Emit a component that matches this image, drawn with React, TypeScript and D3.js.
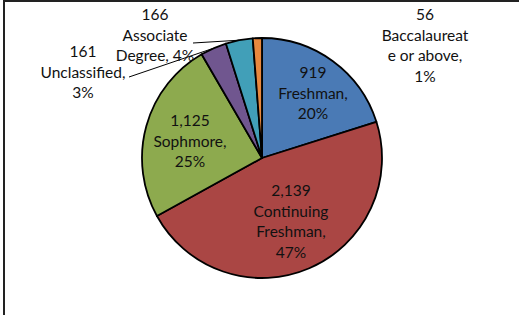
import React from 'react';
import * as d3 from 'd3';

// Student classification counts, clockwise from 12 o'clock
const categories = ['Freshman', 'Continuing Freshman', 'Sophmore', 'Unclassified', 'Associate Degree', 'Baccalaureate or above'];
const counts = [919, 2139, 1125, 161, 166, 56];
const colors = ['#4A7AB5', '#AA4644', '#8DAA4E', '#70568F', '#419FB8', '#E8883E'];

// label text lines as shown in the chart
const labelLines = [
  ['919', 'Freshman,', '20%'],
  ['2,139', 'Continuing', 'Freshman,', '47%'],
  ['1,125', 'Sophmore,', '25%'],
  ['161', 'Unclassified,', '3%'],
  ['166', 'Associate', 'Degree, 4%'],
  ['56', 'Baccalaureat', 'e or above,', '1%'],
];

const W = 519;
const H = 315;
const cx = 262;
const cy = 158;
const R = 120;
const lineH = 20.7;

// label anchor (center x, first baseline) and whether a leader line is drawn
const labelPos = [
  { x: 313, y: 78, leader: null },
  { x: 291, y: 196, leader: null },
  { x: 190, y: 126, leader: null },
  { x: 83, y: 57, leader: { x: 129, y: 77 } },
  { x: 155, y: 20, leader: { x: 193, y: 43 } },
  { x: 425, y: 20, leader: null },
];

const App = () => {
  const pie = d3.pie<number>().sort(null).value(d => d);
  const arcs = pie(counts);
  const arc = d3.arc<d3.PieArcDatum<number>>().innerRadius(0).outerRadius(R);

  return (
    <svg width={W} height={H} style={{ position: 'absolute', left: 0, top: 0, background: '#fff' }}
      fontFamily="Lato, 'Open Sans', sans-serif" fontSize={15.5}>
      {/* chart frame (only top and left edges visible) */}
      <line x1={4} y1={1} x2={W} y2={1} stroke="#222" strokeWidth={2} />
      <line x1={4} y1={0} x2={4} y2={H} stroke="#222" strokeWidth={2} />

      <g transform={`translate(${cx},${cy})`}>
        {arcs.map((a, i) => (
          <path key={categories[i]} d={arc(a) || ''} fill={colors[i]} stroke="#000" strokeWidth={1.8}
            strokeLinejoin="round" />
        ))}
      </g>

      {labelPos.map((p, i) => {
        if (!p.leader) return null;
        const mid = (arcs[i].startAngle + arcs[i].endAngle) / 2;
        const ex = cx + R * Math.sin(mid);
        const ey = cy - R * Math.cos(mid);
        return <line key={'l' + i} x1={p.leader.x} y1={p.leader.y} x2={ex} y2={ey} stroke="#000" strokeWidth={1} />;
      })}

      {labelLines.map((lines, i) => (
        <text key={'t' + i} textAnchor="middle" fill="#111">
          {lines.map((s, j) => (
            <tspan key={j} x={labelPos[i].x} y={labelPos[i].y + j * lineH}>{s}</tspan>
          ))}
        </text>
      ))}
    </svg>
  );
};

export default App;
